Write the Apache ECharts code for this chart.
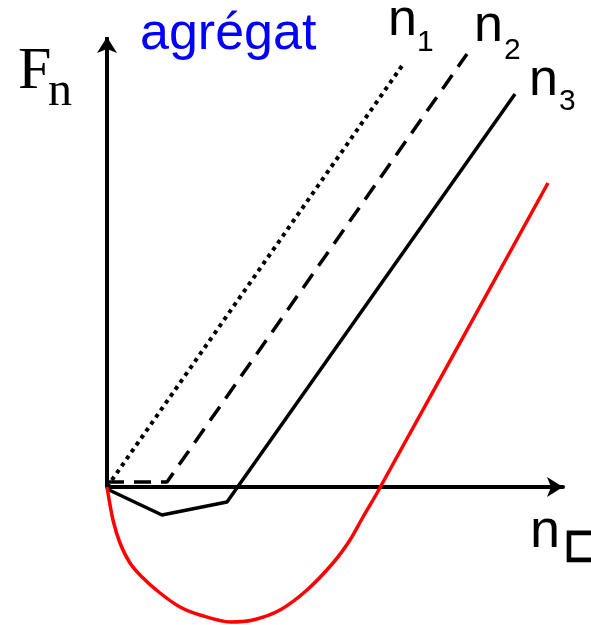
<!DOCTYPE html>
<html>
<head>
<meta charset="utf-8">
<script src="https://cdn.jsdelivr.net/npm/echarts@6/dist/echarts.min.js"></script>
<style>
  html, body { margin: 0; padding: 0; background: #fff; }
  #main { width: 591px; height: 625px; }
</style>
</head>
<body>
<div id="main"></div>
<script>
var myChart = echarts.init(document.getElementById('main'));

// curves in plot units (x right, y up, origin where the axes cross)
var n1Data = [[0, 0], [297, 424]];
var n2Data = [[0, 5], [60, 5], [360, 433]];
var n3Data = [[0, -2], [55, -28], [120, -15], [408, 393]];
var aggX = [0, 6, 13, 23, 35, 53, 73, 93, 123, 146, 173, 200, 226, 243, 256, 270, 441];
var aggY = [0, -33, -56, -76, -90, -106, -120, -128, -135, -133, -123, -103, -76, -53, -30, -6, 304];
var yAxisLine = [[0, 0], [0, 450]];

var aggData = aggX.map(function (x, i) { return [x, aggY[i]]; });

var option = {
  animation: false,
  grid: {
      left: 107,
      right: 28,
      top: 37,
      bottom: 0
  },
  xAxis: {
      type: 'value',
      min: 0,
      max: 456,
      axisLine: {
          onZero: true,
          symbol: ['none', 'arrow'],
          symbolSize: [15, 16],
          lineStyle: { color: '#000', width: 4 }
      },
      axisTick: { show: false },
      axisLabel: { show: false },
      splitLine: { show: false }
  },
  yAxis: {
      type: 'value',
      min: -138,
      max: 450,
      axisLine: { show: false },
      axisTick: { show: false },
      axisLabel: { show: false },
      splitLine: { show: false }
  },
  graphic: [
      { type: 'text', left: 18, top: 42, style: { text: 'F', font: '60px "Liberation Serif"', fill: '#000' } },
      { type: 'text', left: 48, top: 68, style: { text: 'n', font: '48px "Liberation Serif"', fill: '#000' } },
      { type: 'text', left: 140, top: 9, style: { text: 'agrégat', font: '52px "Liberation Sans"', fill: '#0000ff' } },
      { type: 'text', left: 388, top: -5, style: { text: 'n', font: '52px "Liberation Sans"', fill: '#000' } },
      { type: 'text', left: 417, top: 28, style: { text: '1', font: '30px "Liberation Sans"', fill: '#000' } },
      { type: 'text', left: 474, top: 1, style: { text: 'n', font: '52px "Liberation Sans"', fill: '#000' } },
      { type: 'text', left: 504, top: 36, style: { text: '2', font: '30px "Liberation Sans"', fill: '#000' } },
      { type: 'text', left: 529, top: 55, style: { text: 'n', font: '52px "Liberation Sans"', fill: '#000' } },
      { type: 'text', left: 559, top: 87, style: { text: '3', font: '30px "Liberation Sans"', fill: '#000' } },
      { type: 'text', left: 530, top: 505, style: { text: 'n', font: '54px "Liberation Sans"', fill: '#000' } },
      { type: 'text', left: 563, top: 526, style: { text: '□', font: 'bold 38px "DejaVu Sans"', fill: '#000', stroke: '#000', lineWidth: 2.5 } }
  ],
  series: [
      {
          name: 'axe',
          type: 'line',
          data: [],
          silent: true,
          markLine: {
              silent: true,
              symbol: ['none', 'arrow'],
              symbolSize: [15, 16],
              label: { show: false },
              lineStyle: { color: '#000', width: 4, type: 'solid' },
              data: [[{ coord: yAxisLine[0] }, { coord: yAxisLine[1] }]]
          }
      },
      {
          name: 'n1',
          type: 'line',
          data: n1Data,
          showSymbol: false,
          clip: false,
          lineStyle: { color: '#000', width: 4, type: [4, 4.5] }
      },
      {
          name: 'n2',
          type: 'line',
          data: n2Data,
          showSymbol: false,
          clip: false,
          lineStyle: { color: '#000', width: 3.5, type: [17, 10] }
      },
      {
          name: 'n3',
          type: 'line',
          data: n3Data,
          showSymbol: false,
          clip: false,
          lineStyle: { color: '#000', width: 3.5 }
      },
      {
          name: 'agrégat',
          type: 'line',
          data: aggData,
          showSymbol: false,
          clip: false,
          smooth: 0.3,
          lineStyle: { color: '#ff0000', width: 3.5 }
      }
  ]
};

myChart.setOption(option);
</script>
</body>
</html>
